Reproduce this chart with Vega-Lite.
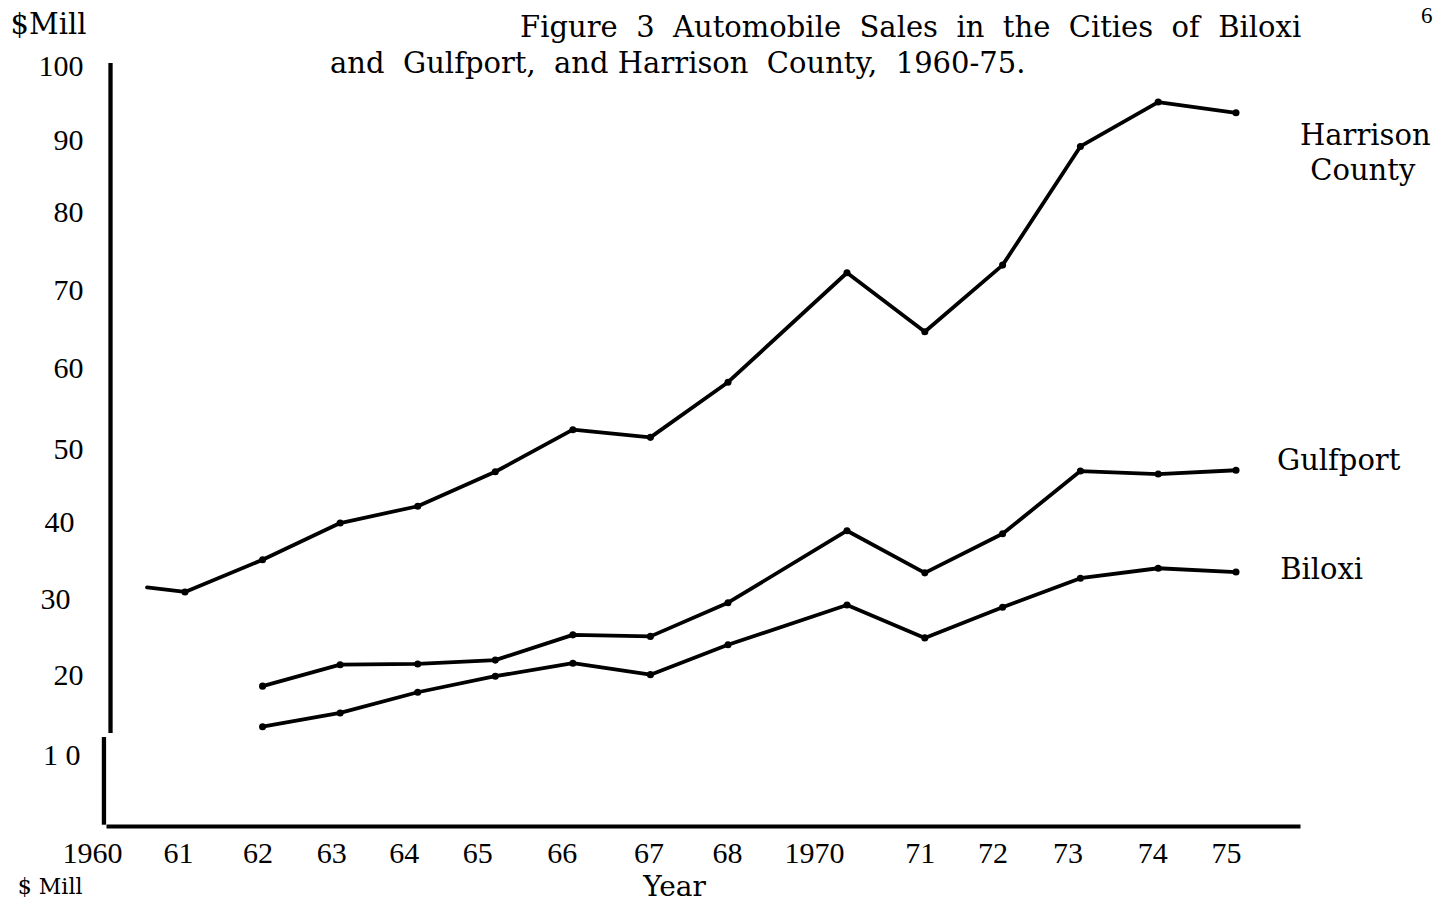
{
  "$schema": "https://vega.github.io/schema/vega-lite/v6.json",
  "width": 1194,
  "height": 763,
  "autosize": {"type": "none"},
  "padding": {"left": 106, "top": 63, "right": 156, "bottom": 78},
  "background": "white",
  "config": {"view": {"stroke": null}, "font": "DejaVu Serif"},
  "datasets": {
    "sales": [
      {"series": "Harrison County", "year": 1960, "sales": 31.9},
      {"series": "Harrison County", "year": 1961, "sales": 31.3},
      {"series": "Harrison County", "year": 1962, "sales": 35.5},
      {"series": "Harrison County", "year": 1963, "sales": 40.3},
      {"series": "Harrison County", "year": 1964, "sales": 42.5},
      {"series": "Harrison County", "year": 1965, "sales": 47.0},
      {"series": "Harrison County", "year": 1966, "sales": 52.5},
      {"series": "Harrison County", "year": 1967, "sales": 51.5},
      {"series": "Harrison County", "year": 1968, "sales": 58.7},
      {"series": "Harrison County", "year": 1970, "sales": 73.0},
      {"series": "Harrison County", "year": 1971, "sales": 65.3},
      {"series": "Harrison County", "year": 1972, "sales": 74.0},
      {"series": "Harrison County", "year": 1973, "sales": 89.5},
      {"series": "Harrison County", "year": 1974, "sales": 95.3},
      {"series": "Harrison County", "year": 1975, "sales": 93.9},
      {"series": "Gulfport", "year": 1962, "sales": 19.0},
      {"series": "Gulfport", "year": 1963, "sales": 21.8},
      {"series": "Gulfport", "year": 1964, "sales": 21.9},
      {"series": "Gulfport", "year": 1965, "sales": 22.4},
      {"series": "Gulfport", "year": 1966, "sales": 25.7},
      {"series": "Gulfport", "year": 1967, "sales": 25.5},
      {"series": "Gulfport", "year": 1968, "sales": 29.9},
      {"series": "Gulfport", "year": 1970, "sales": 39.3},
      {"series": "Gulfport", "year": 1971, "sales": 33.8},
      {"series": "Gulfport", "year": 1972, "sales": 38.9},
      {"series": "Gulfport", "year": 1973, "sales": 47.1},
      {"series": "Gulfport", "year": 1974, "sales": 46.7},
      {"series": "Gulfport", "year": 1975, "sales": 47.2},
      {"series": "Biloxi", "year": 1962, "sales": 13.7},
      {"series": "Biloxi", "year": 1963, "sales": 15.5},
      {"series": "Biloxi", "year": 1964, "sales": 18.2},
      {"series": "Biloxi", "year": 1965, "sales": 20.3},
      {"series": "Biloxi", "year": 1966, "sales": 22.0},
      {"series": "Biloxi", "year": 1967, "sales": 20.5},
      {"series": "Biloxi", "year": 1968, "sales": 24.4},
      {"series": "Biloxi", "year": 1970, "sales": 29.6},
      {"series": "Biloxi", "year": 1971, "sales": 25.3},
      {"series": "Biloxi", "year": 1972, "sales": 29.3},
      {"series": "Biloxi", "year": 1973, "sales": 33.1},
      {"series": "Biloxi", "year": 1974, "sales": 34.4},
      {"series": "Biloxi", "year": 1975, "sales": 33.9}
    ]
  },
  "layer": [
    {
      "data": {"name": "sales"},
      "mark": {"type": "line", "color": "black", "strokeWidth": 3.8, "strokeJoin": "round", "strokeCap": "round"},
      "encoding": {
        "x": {
          "field": "year",
          "type": "quantitative",
          "scale": {"domain": [1959, 1960, 1961, 1968, 1970, 1975, 1976], "range": [0, 41, 79, 622, 741, 1130, 1194], "nice": false, "zero": false},
          "axis": {
            "title": "Year",
            "titleFont": "DejaVu Serif",
            "titleFontSize": 28,
            "titleFontWeight": "normal",
            "titleColor": "black",
            "titleX": 568,
            "titleY": 69,
            "titleAlign": "center",
            "titleBaseline": "alphabetic",
            "values": [1960, 1961, 1962, 1963, 1964, 1965, 1966, 1967, 1968, 1970, 1971, 1972, 1973, 1974, 1975],
            "labelExpr": "datum.value == 1960 || datum.value == 1970 ? '' + datum.value : substring('' + datum.value, 2)",
            "labelOffset": {"expr": "[-55,-7,-5,-9,-14,-18,-11,-2,-1,-33,-5,-10,-13,-6,-10][indexof([1960,1961,1962,1963,1964,1965,1966,1967,1968,1970,1971,1972,1973,1974,1975], datum.value)]"},
            "labelFont": "Liberation Serif",
            "labelFontSize": 30,
            "labelColor": "black",
            "labelPadding": 12,
            "labelFlush": false,
            "labelOverlap": false,
            "labelBound": false,
            "ticks": false,
            "grid": false,
            "domain": true,
            "domainColor": "black",
            "domainWidth": 4
          }
        },
        "y": {
          "field": "sales",
          "type": "quantitative",
          "scale": {"domain": [0.73, 100.4], "nice": false, "zero": false},
          "axis": {
            "title": "$Mill",
            "titleFont": "DejaVu Serif",
            "titleFontSize": 29,
            "titleFontWeight": "normal",
            "titleColor": "black",
            "titleAngle": 0,
            "titleX": -96,
            "titleY": -30,
            "titleAlign": "left",
            "titleBaseline": "alphabetic",
            "values": [10, 20, 30, 40, 50, 60, 70, 80, 90, 100],
            "labelExpr": "datum.value == 10 ? '1 0' : '' + datum.value",
            "labelOffset": {"expr": "[0,-3,-2,-3,1,-4,-5,-7,-2,0][indexof([10,20,30,40,50,60,70,80,90,100], datum.value)]"},
            "labelPadding": {"expr": "datum.value == 40 ? 32 : datum.value == 30 ? 36 : datum.value == 10 ? 26 : 23"},
            "labelFont": "Liberation Serif",
            "labelFontSize": 30,
            "labelColor": "black",
            "labelBaseline": "middle",
            "labelFlush": false,
            "labelOverlap": false,
            "labelBound": false,
            "ticks": false,
            "grid": false,
            "domain": false
          }
        },
        "detail": {"field": "series"}
      }
    },
    {
      "data": {"name": "sales"},
      "transform": [{"filter": "datum.year > 1960"}],
      "mark": {"type": "circle", "color": "black", "size": 50, "opacity": 1},
      "encoding": {
        "x": {"field": "year", "type": "quantitative"},
        "y": {"field": "sales", "type": "quantitative"}
      }
    },
    {
      "data": {"values": [{}]},
      "mark": {"type": "rule", "color": "black", "strokeWidth": 4.3},
      "encoding": {
        "x": {"datum": 1959.11, "type": "quantitative"},
        "y": {"datum": 12.87, "type": "quantitative"},
        "y2": {"datum": 100.4}
      }
    },
    {
      "data": {"values": [{}]},
      "mark": {"type": "rule", "color": "black", "strokeWidth": 4.3},
      "encoding": {
        "x": {"datum": 1958.95, "type": "quantitative"},
        "y": {"datum": 0.9, "type": "quantitative"},
        "y2": {"datum": 12.35}
      }
    },
    {
      "data": {"values": [{}]},
      "mark": {"type": "text", "font": "DejaVu Serif", "fontSize": 29, "align": "left", "baseline": "alphabetic", "color": "black"},
      "encoding": {
        "x": {"datum": 1965.32, "type": "quantitative"},
        "y": {"datum": 103.78, "type": "quantitative"},
        "text": {"value": "Figure \u00a03 \u00a0Automobile \u00a0Sales \u00a0in \u00a0the \u00a0Cities \u00a0of \u00a0Biloxi"}
      }
    },
    {
      "data": {"values": [{}]},
      "mark": {"type": "text", "font": "DejaVu Serif", "fontSize": 29, "align": "left", "baseline": "alphabetic", "color": "black"},
      "encoding": {
        "x": {"datum": 1962.87, "type": "quantitative"},
        "y": {"datum": 99.08, "type": "quantitative"},
        "text": {"value": "and \u00a0Gulfport, \u00a0and Harrison \u00a0County, \u00a01960-75."}
      }
    },
    {
      "data": {"values": [{}]},
      "mark": {"type": "text", "font": "DejaVu Serif", "fontSize": 29, "align": "left", "baseline": "alphabetic", "color": "black"},
      "encoding": {
        "x": {"datum": 1976, "type": "quantitative"},
        "y": {"datum": 89.68, "type": "quantitative"},
        "text": {"value": "Harrison"}
      }
    },
    {
      "data": {"values": [{}]},
      "mark": {"type": "text", "font": "DejaVu Serif", "fontSize": 29, "align": "left", "baseline": "alphabetic", "color": "black"},
      "encoding": {
        "x": {"datum": 1976.16, "type": "quantitative"},
        "y": {"datum": 85.11, "type": "quantitative"},
        "text": {"value": "County"}
      }
    },
    {
      "data": {"values": [{}]},
      "mark": {"type": "text", "font": "DejaVu Serif", "fontSize": 29, "align": "left", "baseline": "alphabetic", "color": "black"},
      "encoding": {
        "x": {"datum": 1975.64, "type": "quantitative"},
        "y": {"datum": 47.23, "type": "quantitative"},
        "text": {"value": "Gulfport"}
      }
    },
    {
      "data": {"values": [{}]},
      "mark": {"type": "text", "font": "DejaVu Serif", "fontSize": 29, "align": "left", "baseline": "alphabetic", "color": "black"},
      "encoding": {
        "x": {"datum": 1975.69, "type": "quantitative"},
        "y": {"datum": 32.99, "type": "quantitative"},
        "text": {"value": "Biloxi"}
      }
    },
    {
      "data": {"values": [{}]},
      "mark": {"type": "text", "font": "Liberation Serif", "fontSize": 23, "align": "center", "baseline": "alphabetic", "color": "black"},
      "encoding": {
        "x": {"datum": 1977.98, "type": "quantitative"},
        "y": {"datum": 105.61, "type": "quantitative"},
        "text": {"value": "6"}
      }
    },
    {
      "data": {"values": [{}]},
      "mark": {"type": "text", "font": "DejaVu Serif", "fontSize": 22, "align": "left", "baseline": "alphabetic", "color": "black"},
      "encoding": {
        "x": {"datum": 1956.85, "type": "quantitative"},
        "y": {"datum": -8.2, "type": "quantitative"},
        "text": {"value": "$ Mill"}
      }
    }
  ]
}
